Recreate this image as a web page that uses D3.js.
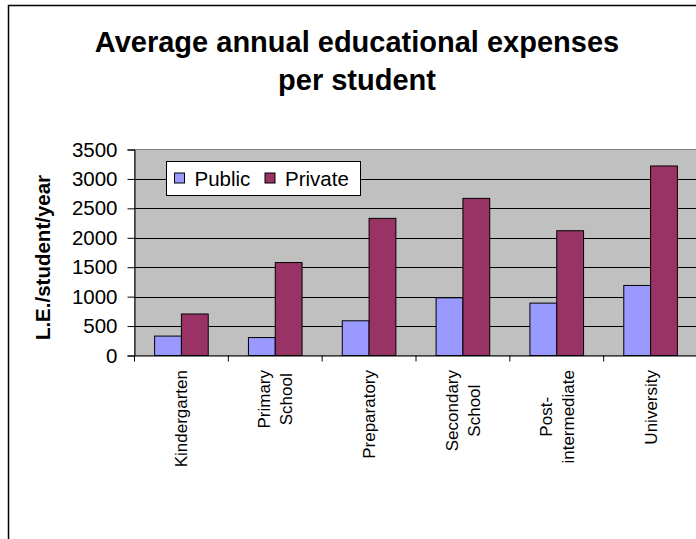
<!DOCTYPE html>
<html>
<head>
<meta charset="utf-8">
<script src="https://cdn.jsdelivr.net/npm/d3@7/dist/d3.min.js"></script>
<style>
  html, body { margin: 0; padding: 0; background: #fff; }
  svg { display: block; font-family: "Liberation Sans", Arial, sans-serif; }
</style>
</head>
<body>
<svg id="chart" width="696" height="539"></svg>
<script>
const categories = [["Kindergarten"], ["Primary", "School"], ["Preparatory"], ["Secondary", "School"], ["Post-", "intermediate"], ["University"]];
const seriesNames = ["Public", "Private"];
const publicValues = [330, 305, 590, 980, 890, 1190];
const privateValues = [705, 1580, 2330, 2670, 2120, 3220];
const yTicks = [0, 500, 1000, 1500, 2000, 2500, 3000, 3500];
const titleLines = ["Average annual educational expenses", "per student"];
const yAxisTitle = "L.E./student/year";
const colors = ["#9999FF", "#993366"];

const svg = d3.select("#chart");

// chart border
svg.append("rect").attr("x", 8.5).attr("y", 5.5).attr("width", 720).attr("height", 560)
  .attr("fill", "#fff").attr("stroke", "#000").attr("stroke-width", 1.5);

// title
const title = svg.append("text").attr("text-anchor", "middle")
  .attr("font-size", 29).attr("font-weight", "bold").attr("fill", "#000");
titleLines.forEach((t, i) => {
  title.append("tspan").attr("x", 357).attr("y", 52 + i * 38).text(t);
});

const plot = { left: 134.5, right: 697.5, top: 149.5, bottom: 355.5 };
const catIdx = categories.map((d, i) => i);
const x = d3.scaleBand().domain(catIdx).range([plot.left, plot.right]).paddingInner(0).paddingOuter(0);
const y = d3.scaleLinear().domain([0, 3500]).range([plot.bottom, plot.top]);

// plot background
svg.append("rect").attr("x", plot.left).attr("y", plot.top)
  .attr("width", plot.right - plot.left).attr("height", plot.bottom - plot.top)
  .attr("fill", "#C0C0C0").attr("stroke", "#808080").attr("stroke-width", 1);

// gridlines
svg.append("g").selectAll("line").data(yTicks.filter(d => d > 0 && d < 3500)).join("line")
  .attr("x1", plot.left).attr("x2", plot.right)
  .attr("y1", d => Math.round(y(d)) + 0.5).attr("y2", d => Math.round(y(d)) + 0.5)
  .attr("stroke", "#000").attr("stroke-width", 1);

// bars
const barW = x.bandwidth() / 3.5;
const groups = svg.append("g").selectAll("g").data(catIdx).join("g");
[publicValues, privateValues].forEach((vals, s) => {
  groups.append("rect")
    .attr("x", i => x(i) + x.bandwidth() / 2 - barW + s * barW)
    .attr("y", i => y(vals[i]))
    .attr("width", barW)
    .attr("height", i => y(0) - y(vals[i]))
    .attr("fill", colors[s]).attr("stroke", "#000").attr("stroke-width", 1);
});

// y axis
const yAxis = d3.axisLeft(y).tickValues(yTicks).tickSize(7).tickPadding(10).tickFormat(d3.format("d"));
const yg = svg.append("g").attr("transform", `translate(${plot.left},0)`).call(yAxis);
yg.select(".domain").attr("stroke", "#000");
yg.selectAll(".tick line").attr("stroke", "#000");
yg.selectAll(".tick text").attr("font-size", 20.5).attr("fill", "#000")
  .attr("font-family", "'Liberation Sans', Arial, sans-serif");

// x axis
const xAxis = d3.axisBottom(x).tickValues([]).tickSizeOuter(0);
const xg = svg.append("g").attr("transform", `translate(0,${plot.bottom})`).call(xAxis);
xg.select(".domain").attr("stroke", "#000");
xg.append("g").selectAll("line").data(d3.range(categories.length + 1)).join("line")
  .attr("x1", i => plot.left + i * x.bandwidth()).attr("x2", i => plot.left + i * x.bandwidth())
  .attr("y1", 0).attr("y2", 6).attr("stroke", "#000");

// category labels (rotated)
const labelTop = 370;
const lineH = 22;
categories.forEach((lines, i) => {
  const g = svg.append("g");
  const t = g.append("text").attr("text-anchor", "middle").attr("font-size", 17).attr("fill", "#000");
  lines.forEach((ln, j) => {
    t.append("tspan").attr("x", 0).attr("y", (j - (lines.length - 1) / 2) * lineH).attr("dy", "0.35em").text(ln);
  });
  let maxLen = 0;
  t.selectAll("tspan").each(function() { maxLen = Math.max(maxLen, this.getComputedTextLength()); });
  const cx = x(i) + x.bandwidth() / 2;
  g.attr("transform", `translate(${cx},${labelTop + maxLen / 2}) rotate(-90)`);
});

// y axis title
svg.append("text").attr("transform", "translate(42.5,257.5) rotate(-90)")
  .attr("text-anchor", "middle").attr("dy", "0.35em")
  .attr("font-size", 20.5).attr("font-weight", "bold").attr("fill", "#000").text(yAxisTitle);

// legend
const lg = svg.append("g");
lg.append("rect").attr("x", 166.5).attr("y", 161.5).attr("width", 194).attr("height", 34)
  .attr("fill", "#fff").attr("stroke", "#000").attr("stroke-width", 1);
const legendX = [174.5, 265];
const legendTextX = [194.5, 285];
seriesNames.forEach((n, s) => {
  lg.append("rect").attr("x", legendX[s]).attr("y", 173).attr("width", 10).attr("height", 10)
    .attr("fill", colors[s]).attr("stroke", "#000").attr("stroke-width", 1);
  lg.append("text").attr("x", legendTextX[s]).attr("y", 185.5).attr("font-size", 20.5).attr("fill", "#000").text(n);
});
</script>
</body>
</html>
